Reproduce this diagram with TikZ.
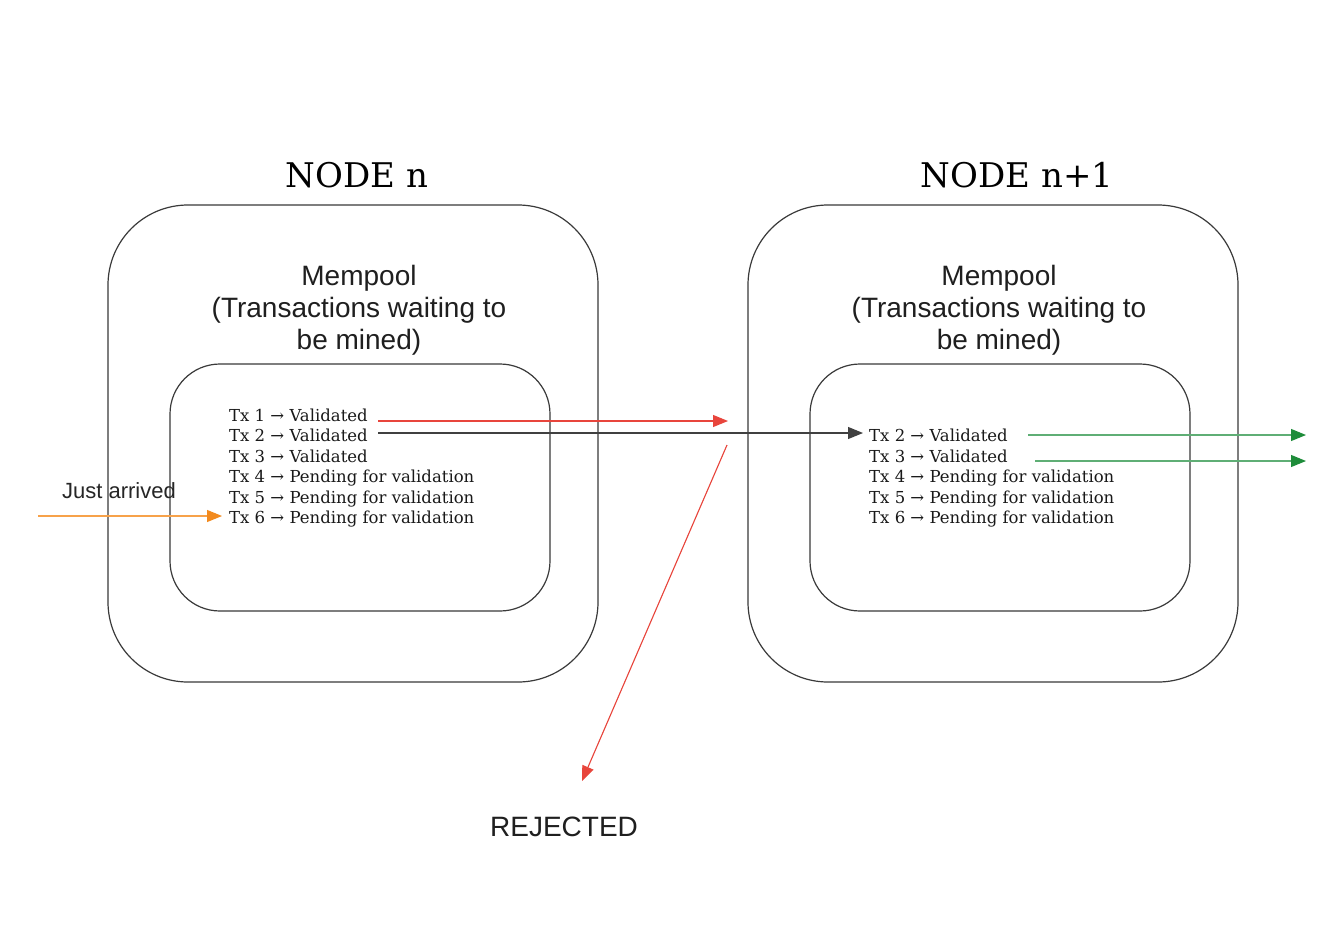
\documentclass[tikz,border=0pt]{standalone}
\usepackage{fontspec}
\setmainfont{Liberation Sans}
\newfontfamily\slab{DejaVu Serif}
\usetikzlibrary{arrows.meta}
\definecolor{boxgray}{HTML}{3A3A3A}
\definecolor{redln}{HTML}{E8453C}
\definecolor{greenln}{HTML}{1E8C3A}
\definecolor{greenlt}{HTML}{5FAE75}
\definecolor{orangeln}{HTML}{F7A24A}
\definecolor{orangehd}{HTML}{F28A1E}
\tikzset{
  outerbox/.style={draw=boxgray, line width=1.2pt, rounded corners=80pt},
  innerbox/.style={draw=boxgray, line width=1.2pt, rounded corners=50pt},
  title/.style={font=\slab\fontsize{34}{40}\selectfont, text=black},
  mempool/.style={font=\fontsize{28}{32}\selectfont, align=center, text=black!88},
  txline/.style={font=\slab\fontsize{16.5}{20}\selectfont, anchor=base west, inner sep=0pt, text=black!90},
  label/.style={font=\fontsize{22}{26}\selectfont, text=black!85},
  tip/.style={-{Triangle[length=15pt,width=12pt]}},
  redarrow/.style={tip, draw=redln, fill=redln, line width=1.1pt},
  blackarrow/.style={tip, draw=black!75, fill=black, line width=1.1pt},
  greenarrow/.style={-{Triangle[length=15pt,width=12pt,color=greenln]}, draw=greenlt, line width=1.1pt},
  orangearrow/.style={-{Triangle[length=15pt,width=12pt,color=orangehd]}, draw=orangeln, line width=1.1pt},
}
\begin{document}
\begin{tikzpicture}[x=1pt,y=-1pt]
\useasboundingbox (0,0) rectangle (1328,937);
\fill[white] (0,0) rectangle (1328,937);

% boxes
\draw[outerbox] (108,205) rectangle (598,682);
\draw[innerbox] (170,364) rectangle (550,611);
\draw[outerbox] (748,205) rectangle (1238,682);
\draw[innerbox] (810,364) rectangle (1190,611);

% titles
\node[title] (tn) at (357,175) {NODE n};
\node[title] (tn1) at (1017,175) {NODE n+1};

\node[mempool] (m1) at (359,310) {Mempool\\(Transactions waiting to\\be mined)};
\node[mempool] (m2) at (999,310) {Mempool\\(Transactions waiting to\\be mined)};

% left list (baselines)
\node[txline] (a1) at (229,421) {Tx 1 → Validated};
\node[txline] (a2) at (229,441.5) {Tx 2 → Validated};
\node[txline] (a3) at (229,462) {Tx 3 → Validated};
\node[txline] (a4) at (229,482.5) {Tx 4 → Pending for validation};
\node[txline] (a5) at (229,503) {Tx 5 → Pending for validation};
\node[txline] (a6) at (229,523.5) {Tx 6 → Pending for validation};

% right list
\node[txline] (b2) at (869,441.5) {Tx 2 → Validated};
\node[txline] (b3) at (869,462) {Tx 3 → Validated};
\node[txline] (b4) at (869,482.5) {Tx 4 → Pending for validation};
\node[txline] (b5) at (869,503) {Tx 5 → Pending for validation};
\node[txline] (b6) at (869,523.5) {Tx 6 → Pending for validation};

% labels
\node[label] (ja) at (119,491) {Just arrived};
\node[font=\fontsize{28}{32}\selectfont, text=black!88] (rej) at (564,827) {REJECTED};

% coordinates
\coordinate (oin) at (38,516);
\coordinate (oend) at (222,516);
\coordinate (r1s) at (378,421);
\coordinate (r1e) at (728,421);
\coordinate (bks) at (378,433);
\coordinate (bke) at (863,433);
\coordinate (rds) at (727,445);
\coordinate (rde) at (582,781);
\coordinate (g1s) at (1028,435);
\coordinate (g1e) at (1306,435);
\coordinate (g2s) at (1035,461);
\coordinate (g2e) at (1306,461);

% arrows
\draw[orangearrow] (oin) -- (oend);
\draw[redarrow] (r1s) -- (r1e);
\draw[blackarrow] (bks) -- (bke);
\draw[redarrow] (rds) -- (rde);
\draw[greenarrow] (g1s) -- (g1e);
\draw[greenarrow] (g2s) -- (g2e);
\end{tikzpicture}
\end{document}
